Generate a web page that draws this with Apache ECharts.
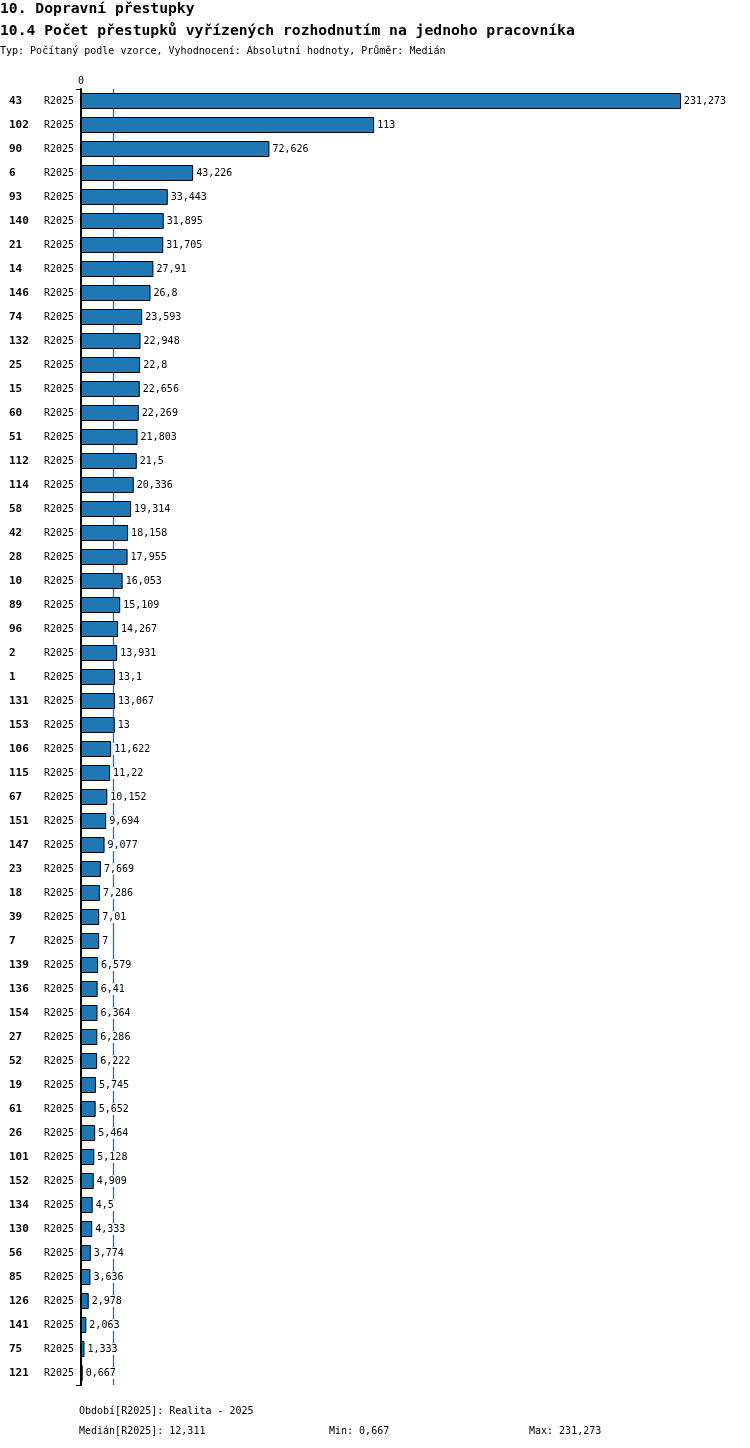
<!DOCTYPE html>
<html>
<head>
<meta charset="utf-8">
<script src="https://cdn.jsdelivr.net/npm/echarts@6/dist/echarts.min.js"></script>
<style>
  html, body { margin: 0; padding: 0; background: #fff; }
  #chart { width: 750px; height: 1448px; }
</style>
</head>
<body>
<div id="chart"></div>
<script>
const ids = ['43', '102', '90', '6', '93', '140', '21', '14', '146', '74', '132', '25', '15', '60', '51', '112', '114', '58', '42', '28',
  '10', '89', '96', '2', '1', '131', '153', '106', '115', '67', '151', '147', '23', '18', '39', '7', '139', '136', '154', '27',
  '52', '19', '61', '26', '101', '152', '134', '130', '56', '85', '126', '141', '75', '121'];
const values = [231.273, 113, 72.626, 43.226, 33.443, 31.895, 31.705, 27.91, 26.8, 23.593, 22.948, 22.8, 22.656, 22.269, 21.803, 21.5, 20.336, 19.314, 18.158, 17.955,
  16.053, 15.109, 14.267, 13.931, 13.1, 13.067, 13, 11.622, 11.22, 10.152, 9.694, 9.077, 7.669, 7.286, 7.01, 7, 6.579, 6.41, 6.364, 6.286,
  6.222, 5.745, 5.652, 5.464, 5.128, 4.909, 4.5, 4.333, 3.774, 3.636, 2.978, 2.063, 1.333, 0.667];
const period = 'R2025';
const median = 12.311;
const minVal = 0.667;
const maxVal = 231.273;

const FONT = '"DejaVu Sans Mono", monospace';
const fmt = v => String(v).replace('.', ',');

function text(t, left, top, size, bold) {
  return {
    text: t, left, top, padding: 0,
    textStyle: { fontFamily: FONT, fontSize: size, fontWeight: bold ? 'bold' : 'normal', color: '#000' }
  };
}

const chart = echarts.init(document.getElementById('chart'));
chart.setOption({
  backgroundColor: '#fff',
  animation: false,
  textStyle: { fontFamily: FONT },
  title: [
    text('10. Dopravní přestupky', 0, 2, 14.7, true),
    text('10.4 Počet přestupků vyřízených rozhodnutím na jednoho pracovníka', 0, 24, 14.7, true),
    text('Typ: Počítaný podle vzorce, Vyhodnocení: Absolutní hodnoty, Průměr: Medián', 0, 46, 10, false),
    text(`Období[${period}]: Realita - 2025`, 79, 1406, 10, false),
    text(`Medián[${period}]: ${fmt(median)}`, 79, 1426, 10, false),
    text(`Min: ${fmt(minVal)}`, 329, 1426, 10, false),
    text(`Max: ${fmt(maxVal)}`, 529, 1426, 10, false)
  ],
  grid: { left: 81, top: 89, width: 600, height: 1296, containLabel: false },
  xAxis: {
    type: 'value', position: 'top', min: 0, max: maxVal,
    axisLine: { show: false }, axisTick: { show: false }, splitLine: { show: false },
    axisLabel: { color: '#000', fontFamily: FONT, fontSize: 10, margin: 3, formatter: v => (v === 0 ? '0' : '') }
  },
  yAxis: {
    type: 'category', data: ids, inverse: true,
    axisLine: { lineStyle: { color: '#000', width: 2 } },
    axisTick: { show: true, length: 5, interval: i => i === 0, lineStyle: { color: '#000' } },
    axisLabel: {
      align: 'left', margin: 72, fontFamily: FONT,
      formatter: v => `{a|${v}}{b|${period}}`,
      rich: {
        a: { width: 35, fontFamily: FONT, fontSize: 11, fontWeight: 'bold', color: '#000' },
        b: { fontFamily: FONT, fontSize: 10, color: '#000' }
      }
    }
  },
  series: [{
    type: 'bar', data: values, barWidth: 16,
    itemStyle: { color: '#1f77b4', borderColor: '#000', borderWidth: 1 },
    label: {
      show: true, position: 'right', distance: 2, color: '#000', fontFamily: FONT, fontSize: 10,
      backgroundColor: '#fff', padding: [1, 1],
      formatter: p => fmt(p.value)
    },
    markLine: {
      silent: true, symbol: 'none', z: 1,
      lineStyle: { color: '#1f77b4', type: 'solid', width: 1.3 },
      label: { show: false },
      data: [{ xAxis: median, lineStyle: { color: '#1f77b4', type: 'solid', width: 1.3 } }]
    }
  }]
});
</script>
</body>
</html>
